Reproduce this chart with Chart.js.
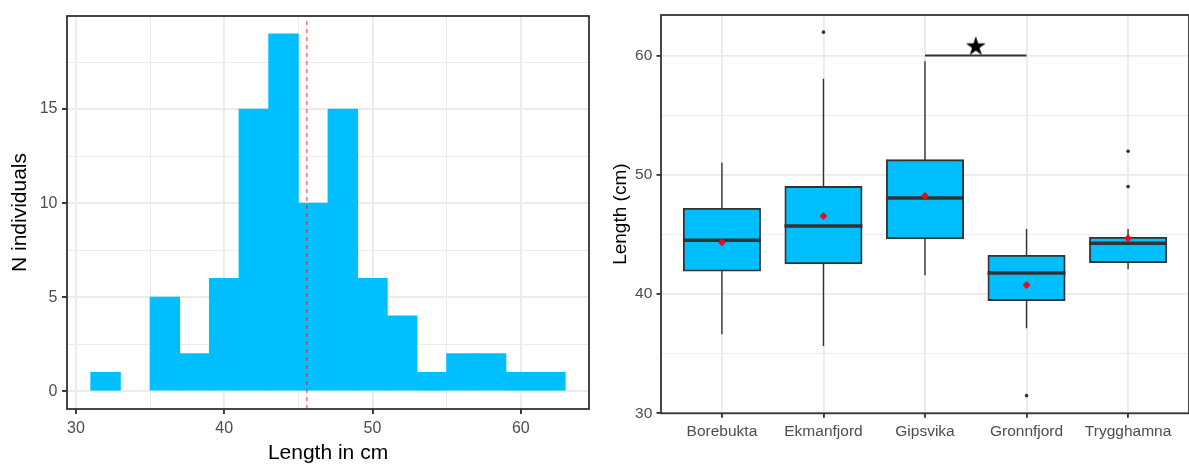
<!DOCTYPE html>
<html><head><meta charset="utf-8">
<script src="https://cdn.jsdelivr.net/npm/chart.js@4/dist/chart.umd.min.js"></script>
<style>
html,body{margin:0;padding:0;background:#fff;overflow:hidden;width:1189px;height:464px}
#c1{position:absolute;left:0;top:0}
#c2{position:absolute;left:600px;top:0}
</style></head><body>
<canvas id="c1" width="600" height="464"></canvas>
<canvas id="c2" width="600" height="464"></canvas>
<script>
// ---------- Histogram data ----------
const binCenters = [32,34,36,38,40,42,44,46,48,50,52,54,56,58,60,62];
const binCounts  = [1,0,5,2,6,15,19,10,15,6,4,1,2,2,1,1];
const meanLength = 45.57;
const histXLimits = [29.4, 64.6];
const histYLimits = [-0.95, 19.95];
const histXMajor = [30,40,50,60];
const histXMinor = [35,45,55];
const histYMajor = [0,5,10,15];
const histYMinor = [2.5,7.5,12.5,17.5];

// ---------- Box plot data ----------
const sites       = ['Borebukta','Ekmanfjord','Gipsvika','Gronnfjord','Trygghamna'];
const q1          = [41.96,42.58,44.68,39.50,42.69];
const median      = [44.51,45.71,48.06,41.77,44.26];
const q3          = [47.14,48.98,51.22,43.20,44.71];
const whiskerLow  = [36.63,35.65,41.58,37.13,42.08];
const whiskerHigh = [51.02,58.05,59.53,45.46,45.46];
const siteMeans   = [44.35,46.55,48.23,40.76,44.68];
const outlierSites  = ['Ekmanfjord','Gronnfjord','Trygghamna','Trygghamna'];
const outlierValues = [61.96,31.48,51.98,49.01];
const sigPair  = ['Gipsvika','Gronnfjord'];
const sigBarY  = 60;
const sigStarY = 60.75;
const boxXLimits = [0.4, 5.6];
const boxYLimits = [30, 63.4];
const boxYMajor = [30,40,50,60];
const boxYMinor = [35,45,55];

// ---------- helpers ----------
const FONT = '"Liberation Sans", Arial, sans-serif';
const pos = s => sites.indexOf(s) + 1;
const isIn = (arr, v) => arr.some(m => Math.abs(m - v) < 1e-9);

const panelBorder = {
  id: 'panelBorder',
  afterDraw(chart, args, opts) {
    const {ctx, chartArea: a} = chart;
    ctx.save();
    ctx.strokeStyle = '#333333';
    ctx.lineWidth = opts.width || 1.5;
    ctx.strokeRect(a.left, a.top, a.right - a.left, a.bottom - a.top);
    ctx.restore();
  }
};

function makeAxis(o) {
  return {
    type: 'linear', min: o.min, max: o.max, offset: false,
    afterBuildTicks: s => { s.ticks = o.major.concat(o.minor).sort((a,b)=>a-b).map(v => ({value: v})); },
    afterFit: s => { if (s.isHorizontal()) s.height = o.size; else s.width = o.size; },
    ticks: {
      autoSkip: false, maxRotation: 0, minRotation: 0, padding: o.tickPad, color: '#4D4D4D',
      font: {family: FONT, size: o.tickFont, lineHeight: 1.2},
      callback: v => isIn(o.major, v) ? o.fmt(v) : ''
    },
    grid: {
      color: '#EBEBEB', offset: false, drawTicks: true, tickLength: o.tickLen, tickColor: '#333333',
      lineWidth: c => (c.tick && isIn(o.major, c.tick.value)) ? o.lineW : o.lineW / 2,
      tickWidth: c => (c.tick && isIn(o.major, c.tick.value)) ? o.lineW : 0
    },
    border: {display: false},
    title: o.title ? {display: true, text: o.title, color: '#000000',
      font: {family: FONT, size: o.titleFont, lineHeight: 1}, padding: o.titlePad} : {display: false}
  };
}

// ---------- Left: histogram ----------
new Chart(document.getElementById('c1'), {
  type: 'bar',
  data: {
    datasets: [
      {
        type: 'bar', order: 2,
        data: binCenters.map((x, i) => ({x, y: binCounts[i]})),
        backgroundColor: '#00BFFF', borderWidth: 0,
        inflateAmount: c => (c.raw && c.raw.y === 0) ? 0 : 0.4,
        barPercentage: 1, categoryPercentage: 1
      },
      {
        type: 'line', order: 1,
        data: [{x: meanLength, y: histYLimits[0]}, {x: meanLength, y: histYLimits[1]}],
        borderColor: 'rgba(255,0,0,0.55)', borderWidth: 1.5, borderDash: [4, 4],
        pointRadius: 0, fill: false
      }
    ]
  },
  options: {
    responsive: false, animation: false, events: [],
    layout: {padding: {top: 16, right: 11, left: 0, bottom: 0}},
    plugins: {legend: {display: false}, tooltip: {enabled: false}, panelBorder: {width: 1.8}},
    scales: {
      x: makeAxis({min: histXLimits[0], max: histXLimits[1], major: histXMajor, minor: histXMinor,
        fmt: v => String(v), size: 55, tickPad: 5, tickLen: 5, tickFont: 16, lineW: 1.9,
        title: 'Length in cm', titleFont: 21, titlePad: {top: 0, bottom: 0}}),
      y: makeAxis({min: histYLimits[0], max: histYLimits[1], major: histYMajor, minor: histYMinor,
        fmt: v => String(v), size: 67, tickPad: 4.5, tickLen: 5, tickFont: 16, lineW: 1.9,
        title: 'N individuals', titleFont: 21, titlePad: {top: 10, bottom: 0}})
    }
  },
  plugins: [panelBorder]
});

// ---------- Right: box plot ----------
const starImg = (() => {
  const c = document.createElement('canvas');
  c.width = 26; c.height = 26;
  const g = c.getContext('2d');
  const R = 10.4, r = R * 0.382, cx = 13, cy = 13;
  g.beginPath();
  for (let k = 0; k < 10; k++) {
    const rad = -Math.PI / 2 + k * Math.PI / 5;
    const rr = k % 2 ? r : R;
    const px = cx + rr * Math.cos(rad), py = cy + rr * Math.sin(rad);
    k ? g.lineTo(px, py) : g.moveTo(px, py);
  }
  g.closePath();
  g.fillStyle = '#000';
  g.fill();
  return c;
})();

const BOX_W = 0.75;
const sitePos = sites.map(pos);
const boxLineW = 1.85;

const xBox = makeAxis({min: boxXLimits[0], max: boxXLimits[1], major: sitePos, minor: [],
  fmt: v => sites[v - 1], size: 50.7, tickPad: 5, tickLen: 4.5, tickFont: 15.5, lineW: 1.85, title: null});
const yBox = makeAxis({min: boxYLimits[0], max: boxYLimits[1], major: boxYMajor, minor: boxYMinor,
  fmt: v => String(v), size: 61, tickPad: 4.2, tickLen: 4.5, tickFont: 15.5, lineW: 1.85,
  title: 'Length (cm)', titleFont: 19, titlePad: {top: 10.8, bottom: 0}});

new Chart(document.getElementById('c2'), {
  type: 'bar',
  data: {
    datasets: [
      { // whiskers
        type: 'bar', order: 7, grouped: false,
        data: sitePos.map((x, i) => ({x, y: [whiskerLow[i], whiskerHigh[i]]})),
        backgroundColor: '#333333', borderWidth: 0, barThickness: 1.4, inflateAmount: 0
      },
      { // boxes
        type: 'bar', order: 6, grouped: false,
        data: sitePos.map((x, i) => ({x, y: [q1[i], q3[i]]})),
        backgroundColor: '#00BFFF', borderColor: '#333333', borderWidth: boxLineW,
        borderSkipped: false, inflateAmount: boxLineW / 2,
        barPercentage: BOX_W, categoryPercentage: 1
      },
      { // medians
        type: 'scatter', order: 5,
        data: sitePos.map((x, i) => ({x, y: median[i]})),
        pointStyle: 'line', pointBorderColor: '#333333', pointBorderWidth: 3.4,
        pointRadius: c => {
          const s = c.chart.scales.x;
          return Math.abs(s.getPixelForValue(1) - s.getPixelForValue(0)) * BOX_W / 2 + boxLineW / 2;
        }
      },
      { // outliers
        type: 'scatter', order: 4,
        data: outlierSites.map((s, i) => ({x: pos(s), y: outlierValues[i]})),
        pointStyle: 'circle', pointRadius: 1.8, pointBackgroundColor: '#333333', pointBorderWidth: 0
      },
      { // means
        type: 'scatter', order: 3,
        data: sitePos.map((x, i) => ({x, y: siteMeans[i]})),
        pointStyle: 'rectRot', pointRadius: 4, pointBackgroundColor: '#E0101E', pointBorderWidth: 0
      },
      { // significance bar
        type: 'line', order: 2,
        data: sigPair.map(s => ({x: pos(s), y: sigBarY})),
        borderColor: '#333333', borderWidth: boxLineW, pointRadius: 0, fill: false
      },
      { // star
        type: 'scatter', order: 1,
        data: [{x: (pos(sigPair[0]) + pos(sigPair[1])) / 2, y: sigStarY}],
        pointStyle: starImg, pointRadius: 10
      }
    ]
  },
  options: {
    responsive: false, animation: false, events: [],
    layout: {padding: {top: 15, right: 8.6, left: 0, bottom: 0}},
    plugins: {legend: {display: false}, tooltip: {enabled: false}, panelBorder: {width: 1.8}},
    scales: {x: xBox, y: yBox}
  },
  plugins: [panelBorder]
});
</script>
</body></html>
